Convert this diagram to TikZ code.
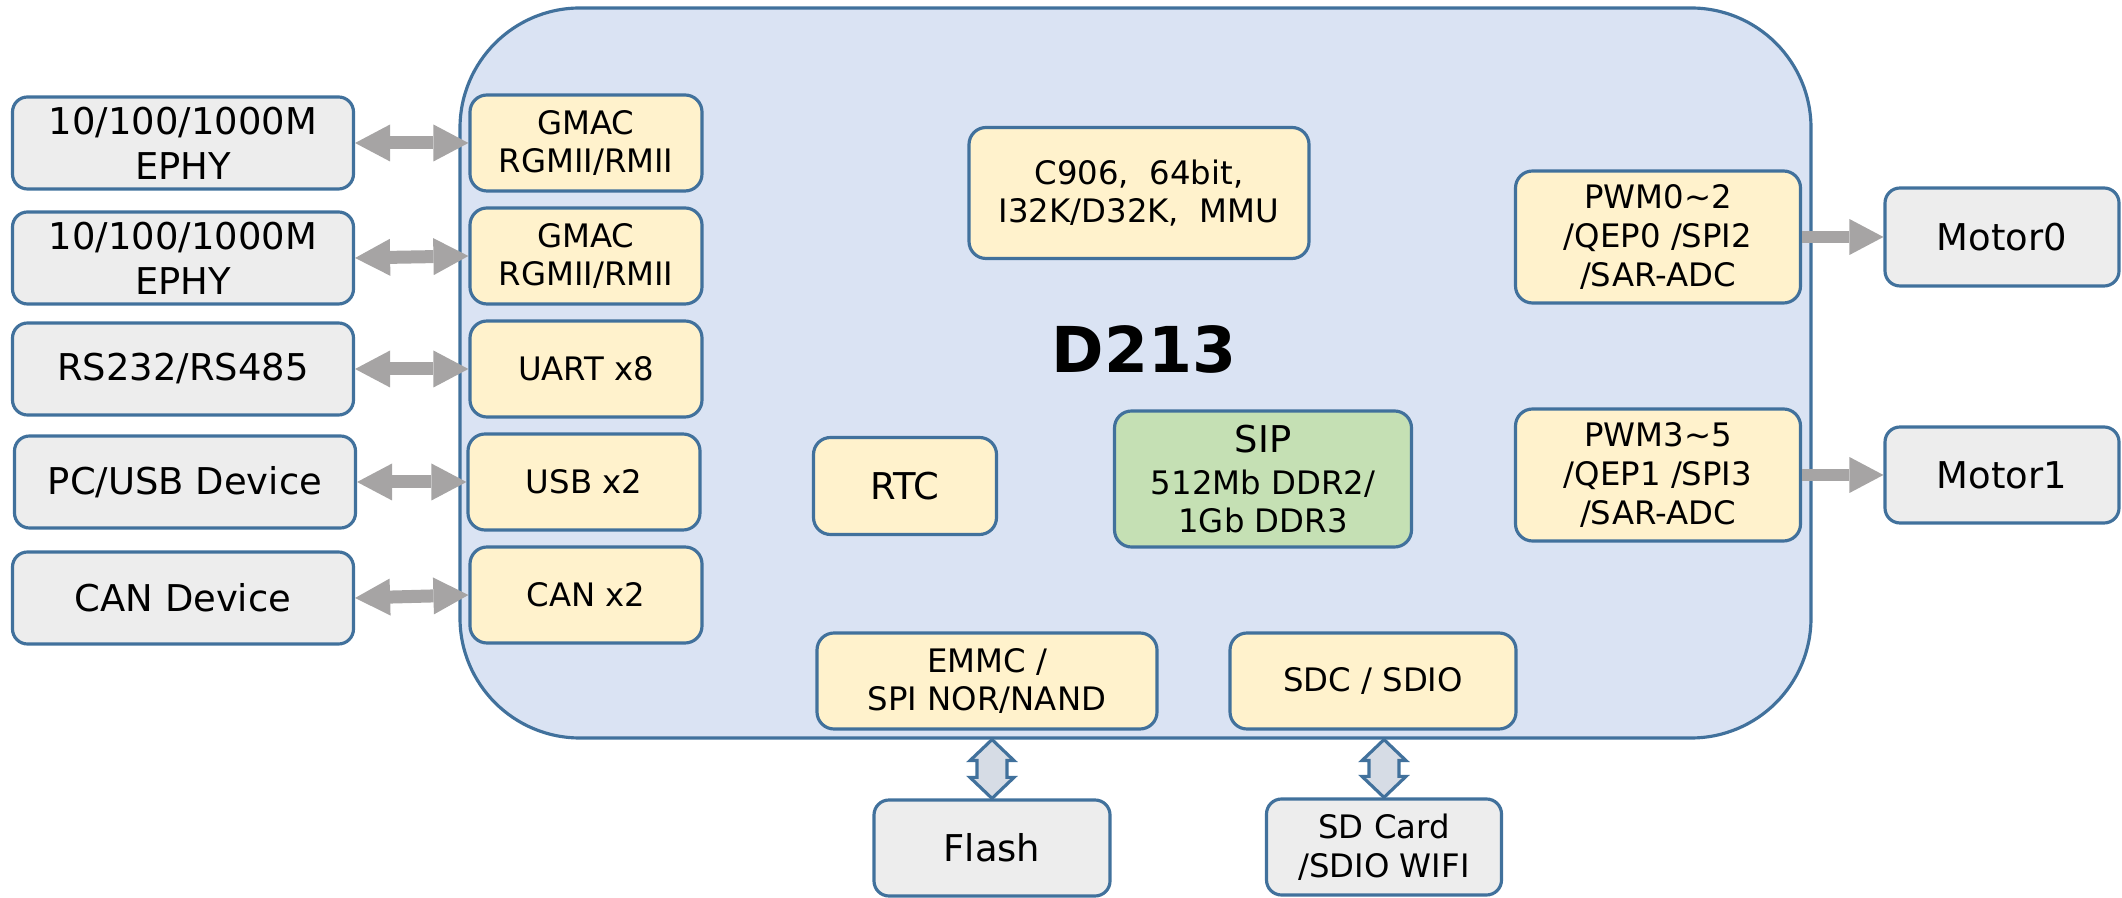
\documentclass[tikz,border=0pt]{standalone}
\usepackage{fontspec}
\setmainfont{DejaVu Sans}
\usepackage{tikz}
\usetikzlibrary{arrows.meta, positioning, calc}
\definecolor{chipblue}{HTML}{DAE3F3}
\definecolor{edgeblue}{HTML}{41719C}
\definecolor{blockyellow}{HTML}{FFF2CC}
\definecolor{devgray}{HTML}{EDEDED}
\definecolor{sipgreen}{HTML}{C5E0B4}
\definecolor{linkgray}{HTML}{A6A4A4}
\definecolor{busfill}{HTML}{D6DCE5}
\tikzstyle{chip} = [rectangle, rounded corners=1.2cm, minimum width=13.51cm, minimum height=7.3cm, draw=edgeblue, line width=0.9pt, fill=chipblue]
\tikzstyle{block} = [rectangle, rounded corners=0.17cm, minimum width=2.32cm, minimum height=0.96cm, inner sep=0pt, align=center, draw=edgeblue, line width=0.9pt, fill=blockyellow, font=\fontsize{9.2}{11}\selectfont]
\tikzstyle{device} = [rectangle, rounded corners=0.15cm, minimum width=3.41cm, minimum height=0.92cm, inner sep=0pt, align=center, draw=edgeblue, line width=0.9pt, fill=devgray, font=\fontsize{10.5}{12.9}\selectfont]
\tikzstyle{duplex} = [line width=0.13cm, draw=linkgray, >={Triangle[width=0.37cm,length=0.35cm,line width=0pt]}, <->]
\tikzstyle{simplex} = [line width=0.12cm, draw=linkgray, >={Triangle[width=0.36cm,length=0.34cm,line width=0pt]}, ->]
\tikzstyle{bus} = [draw=edgeblue, line width=0.9pt, fill=busfill, line join=miter]
\begin{document}
\begin{tikzpicture}[node distance=1.13cm]
\useasboundingbox (0,0) rectangle (21.22,8.98);

% SoC
\node (d213_chip) [chip] at (11.355,5.25) {};
\node (d213_label) at (11.44,5.49) {\fontsize{18}{22}\selectfont\bfseries D213};

% Left interfaces
\node (gmac0) [block] at (5.86,7.55) {GMAC\\RGMII/RMII};
\node (gmac1) [block, below of=gmac0] {GMAC\\RGMII/RMII};
\node (uart) [block, below of=gmac1] {UART x8};
\node (usb) [block, below of=uart, xshift=-0.02cm] {USB x2};
\node (can) [block, below of=usb, xshift=0.02cm] {CAN x2};

\node (ephy0) [device, left of=gmac0, xshift=-2.9cm] {10/100/1000M\\EPHY};
\node (ephy1) [device, left of=gmac1, xshift=-2.9cm, yshift=-0.02cm] {10/100/1000M\\EPHY};
\node (rs485) [device, left of=uart, xshift=-2.9cm] {RS232/RS485};
\node (pc_usb) [device, left of=usb, xshift=-2.86cm] {PC/USB Device};
\node (can_dev) [device, left of=can, xshift=-2.9cm, yshift=-0.03cm] {CAN Device};

% Core
\node (cpu) [block, minimum width=3.4cm, minimum height=1.31cm] at (11.39,7.05) {C906,\ \ 64bit,\\I32K/D32K,\ \ MMU};
\node (rtc) [block, minimum width=1.83cm, minimum height=0.97cm, font=\fontsize{10.5}{12.7}\selectfont] at (9.05,4.12) {RTC};
\node (sip) [block, minimum width=2.97cm, minimum height=1.36cm, fill=sipgreen] at (12.63,4.19) {{\fontsize{10.5}{12}\selectfont SIP}\\[1pt]512Mb DDR2/\\1Gb DDR3};

% Right interfaces
\node (pwm0) [block, minimum width=2.85cm, minimum height=1.32cm] at (16.58,6.61) {PWM0\textasciitilde2\\/QEP0 /SPI2\\/SAR-ADC};
\node (pwm1) [block, minimum width=2.85cm, minimum height=1.32cm] at (16.58,4.23) {PWM3\textasciitilde5\\/QEP1 /SPI3\\/SAR-ADC};
\node (motor0) [device, minimum width=2.34cm, minimum height=0.98cm, right of=pwm0, xshift=2.31cm] {Motor0};
\node (motor1) [device, minimum width=2.34cm, minimum height=0.96cm, right of=pwm1, xshift=2.31cm] {Motor1};

% Storage
\node (emmc) [block, minimum width=3.4cm] at (9.87,2.17) {EMMC /\\SPI NOR/NAND};
\node (sdc) [block, minimum width=2.86cm] at (13.73,2.17) {SDC / SDIO};
\node (flash) [device, minimum width=2.36cm, minimum height=0.96cm] at (9.92,0.50) {Flash};
\node (sd_card) [device, minimum width=2.35cm, minimum height=0.96cm, font=\fontsize{9.2}{11}\selectfont] at (13.84,0.51) {SD Card\\/SDIO WIFI};

% Arrows
\draw [duplex] (ephy0.east) -- (gmac0.west);
\draw [duplex] (ephy1.east) -- (gmac1.west);
\draw [duplex] (rs485.east) -- (uart.west);
\draw [duplex] (pc_usb.east) -- (usb.west);
\draw [duplex] (can_dev.east) -- (can.west);
\draw [simplex] (pwm0.east) -- (motor0.west);
\draw [simplex] (pwm1.east) -- (motor1.west);

\coordinate (flash_top) at (flash.north |- d213_chip.south);
\coordinate (sd_top) at (sd_card.north |- d213_chip.south);
\draw [bus] (flash_top) -- ++(0.22,-0.21) -- ++(-0.07,0) -- ($(flash.north)+(0.15,0.21)$) -- ++(0.07,0) -- (flash.north) -- ++(-0.22,0.21) -- ++(0.07,0) -- ($(flash_top)+(-0.15,-0.21)$) -- ++(-0.07,0) -- cycle;
\draw [bus] (sd_top) -- ++(0.22,-0.21) -- ++(-0.07,0) -- ($(sd_card.north)+(0.15,0.21)$) -- ++(0.07,0) -- (sd_card.north) -- ++(-0.22,0.21) -- ++(0.07,0) -- ($(sd_top)+(-0.15,-0.21)$) -- ++(-0.07,0) -- cycle;

\end{tikzpicture}
\end{document}
